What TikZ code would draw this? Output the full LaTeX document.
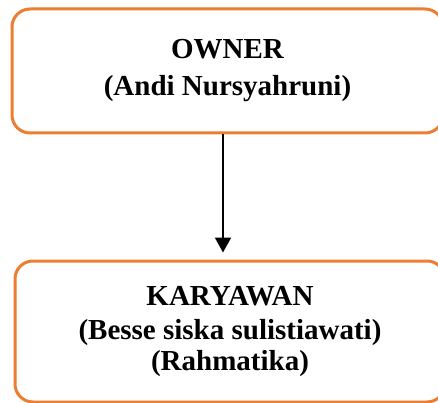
\documentclass[tikz,border=0pt]{standalone}
\usepackage{fontspec}
\setmainfont{Liberation Serif}
\usetikzlibrary{arrows.meta,positioning}
\definecolor{boxorange}{HTML}{ED7D31}

\begin{document}
\begin{tikzpicture}[
        x=1pt, y=1pt,
        every node/.style={font=\fontsize{29}{31}\selectfont\bfseries, align=center},
        rolebox/.style={draw=boxorange, line width=3pt, rounded corners=18pt, rectangle, inner sep=0pt},
        link/.style={draw, line width=2pt, -{Triangle[width=16pt,length=15pt]}}
    ]
    \useasboundingbox (0,0) rectangle (438,-403);
    \clip (0,0) rectangle (438,-403);
    \node[rolebox, minimum width=431pt, minimum height=124pt] (owner) at (227.5,-71) {OWNER\\[6pt](Andi Nursyahruni)};
    \node[rolebox, minimum width=430pt, minimum height=141pt] (karyawan) at (230,-331.5) {KARYAWAN\\[3pt](Besse siska sulistiawati)\\(Rahmatika)};
    \draw[link, shorten >=7pt] ([xshift=-4.5pt]owner.south) -- ([xshift=-7pt]karyawan.north);
\end{tikzpicture}
\end{document}
